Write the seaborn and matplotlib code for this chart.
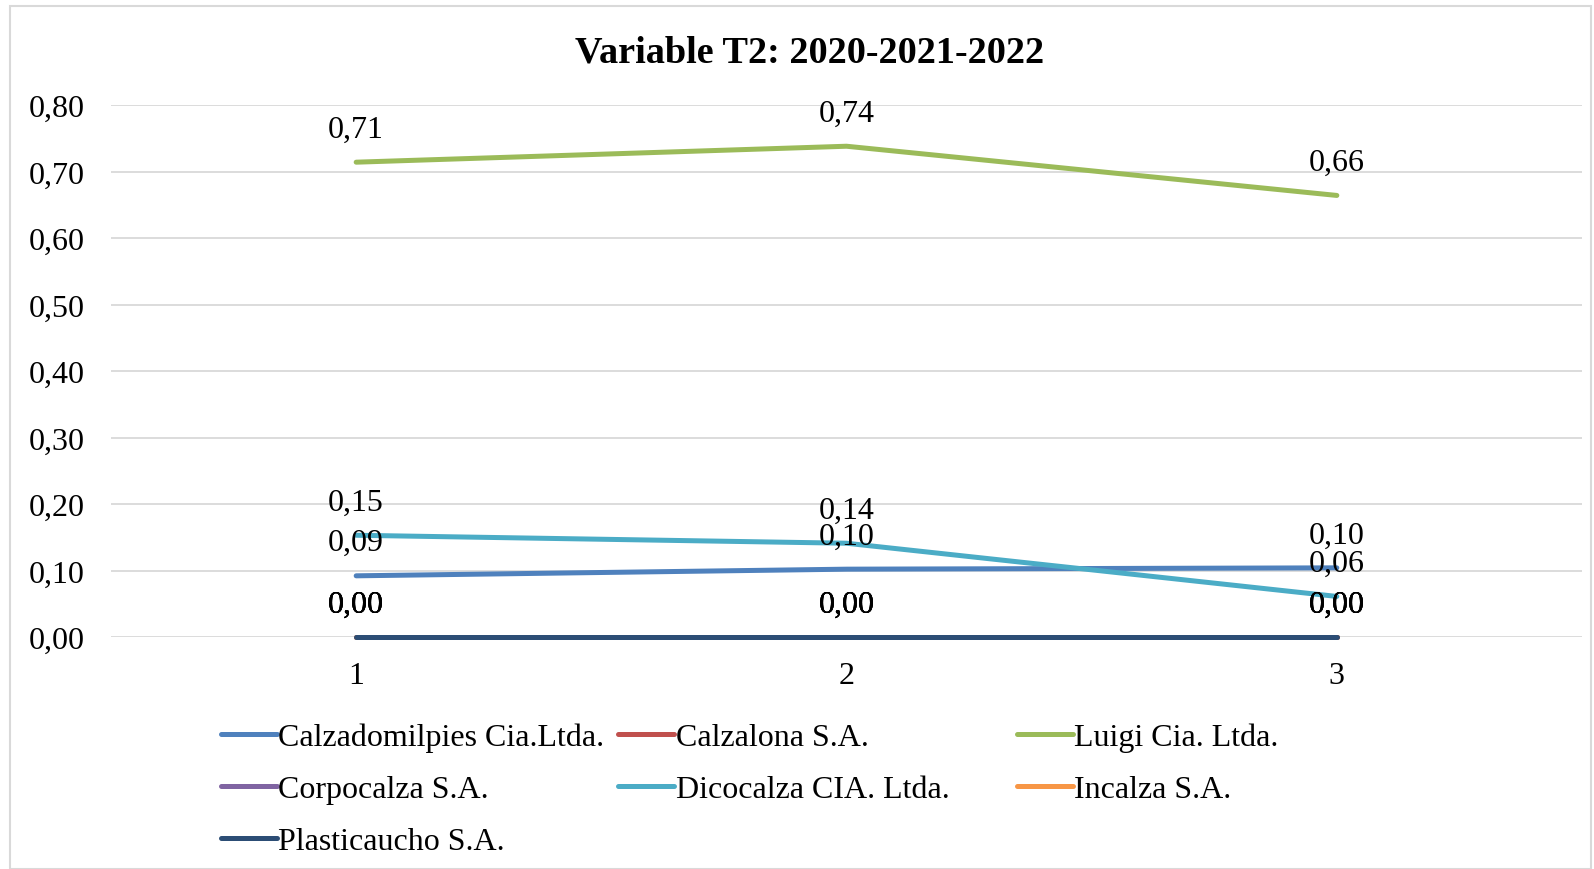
import matplotlib
matplotlib.use("Agg")
import matplotlib.pyplot as plt
import seaborn as sns
import pandas as pd
from matplotlib.lines import Line2D
from matplotlib.patches import Rectangle

# ---- data ----
periods = [1, 2, 3]
companies = ["Calzadomilpies Cia.Ltda.", "Calzalona S.A.", "Luigi Cia. Ltda.",
             "Corpocalza S.A.", "Dicocalza CIA. Ltda.", "Incalza S.A.", "Plasticaucho S.A."]
calzadomilpies = [0.092, 0.102, 0.104]
calzalona = [0.0, 0.0, 0.0]
luigi = [0.714, 0.738, 0.664]
corpocalza = [0.0, 0.0, 0.0]
dicocalza = [0.153, 0.141, 0.061]
incalza = [0.0, 0.0, 0.0]
plasticaucho = [0.0, 0.0, 0.0]
yticks = [0.0, 0.1, 0.2, 0.3, 0.4, 0.5, 0.6, 0.7, 0.8]
title = "Variable T2: 2020-2021-2022"

series = [calzadomilpies, calzalona, luigi, corpocalza, dicocalza, incalza, plasticaucho]
colors = ["#4F81BD", "#C0504D", "#9BBB59", "#8064A2", "#4BACC6", "#F79646", "#2C4D75"]

rows = []
for name, vals in zip(companies, series):
    for p, v in zip(periods, vals):
        rows.append({"Periodo": p, "Valor": v, "Empresa": name})
df = pd.DataFrame(rows)

sns.set_theme(style="white")
plt.rcParams["font.family"] = ["Liberation Serif", "DejaVu Serif"]
plt.rcParams["text.color"] = "black"
plt.rcParams["xtick.color"] = "black"
plt.rcParams["ytick.color"] = "black"

FS = 23

fig = plt.figure(figsize=(15.94, 8.70), dpi=100)
ax = fig.add_axes([111 / 1594, 1 - 638 / 870, (1582 - 111) / 1594, (638 - 106) / 870])

# figure border
fig.patches.append(Rectangle((10 / 1594, 0.0), (1591 - 10) / 1594, 1 - 7 / 870,
                             transform=fig.transFigure, fill=False,
                             edgecolor="#D9D9D9", linewidth=1.5, zorder=0))

sns.lineplot(data=df, x="Periodo", y="Valor", hue="Empresa", hue_order=companies,
             palette=dict(zip(companies, colors)), linewidth=3.6, ax=ax,
             legend=False, zorder=3)

for line in ax.get_lines():
    line.set_solid_capstyle("round")
    line.set_clip_on(False)

# data labels
for name, vals in zip(companies, series):
    for p, v in zip(periods, vals):
        ax.annotate(f"{v:.2f}".replace(".", ","), (p, v), xytext=(0, 33),
                    textcoords="offset pixels", ha="center", va="center",
                    fontsize=FS, color="black", zorder=5)

ax.set_xlim(0.5, 3.5)
ax.set_ylim(0, 0.8)
ax.set_yticks(yticks)
ax.set_yticklabels([f"{t:.2f}".replace(".", ",") for t in yticks], fontsize=FS)
ax.set_xticks(periods)
ax.set_xticklabels([str(p) for p in periods], fontsize=FS)
ax.tick_params(axis="y", length=0, pad=19)
ax.tick_params(axis="x", length=0, pad=17)
ax.set_xlabel("")
ax.set_ylabel("")
ax.grid(axis="y", color="#D9D9D9", linewidth=1.3, zorder=0)
ax.set_axisbelow(True)
for s in ax.spines.values():
    s.set_visible(False)

fig.text(810 / 1594, 1 - 53 / 870, title, ha="center", va="center",
         fontsize=27.5, fontweight="bold")

# legend in three fixed columns
cols = [[0, 3, 6], [1, 4], [2, 5]]
xs = [221, 618, 1017]
for col, x0 in zip(cols, xs):
    handles = [Line2D([0], [0], color=colors[i], linewidth=3.6, solid_capstyle="round") for i in col]
    labels = [companies[i] for i in col]
    fig.legend(handles, labels, loc="upper left",
               bbox_to_anchor=(x0 / 1594, 1 - 724 / 870),
               frameon=False, fontsize=FS, handlelength=1.75,
               handletextpad=0.05, labelspacing=0.70, borderpad=0,
               borderaxespad=0)

fig.savefig("out.png", dpi=100)
